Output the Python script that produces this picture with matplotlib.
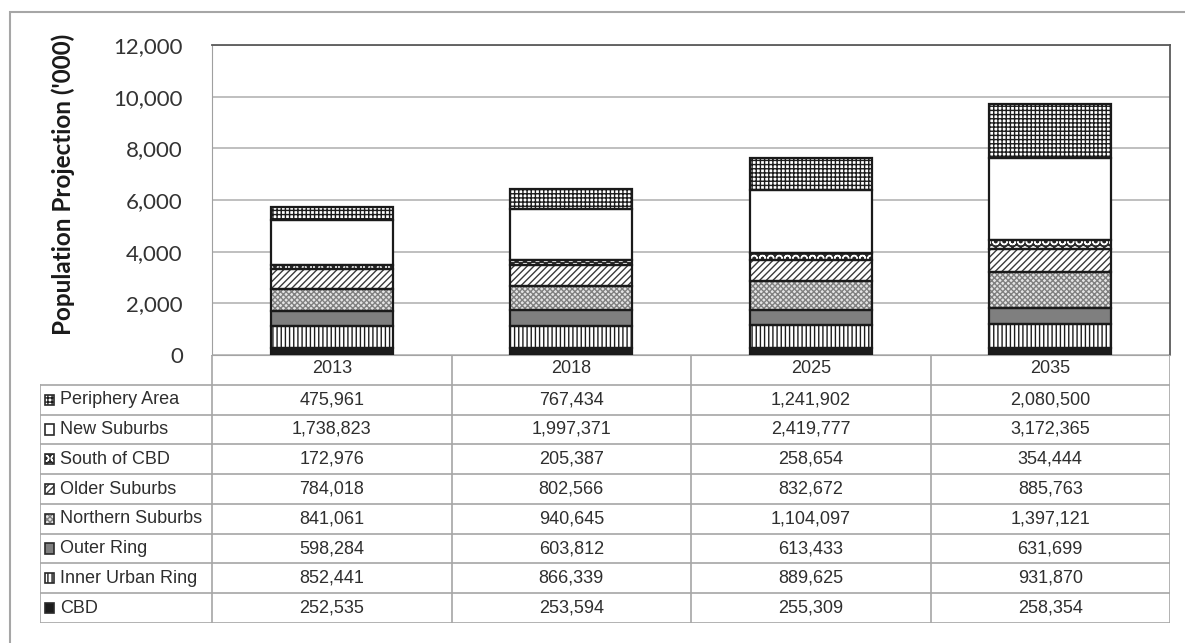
import matplotlib
matplotlib.use("Agg")
import matplotlib.pyplot as plt
from matplotlib.patches import Rectangle
from matplotlib.ticker import StrMethodFormatter

# data (persons), bottom-to-top stacking order
years = ["2013", "2018", "2025", "2035"]
areas = ["CBD", "Inner Urban Ring", "Outer Ring", "Northern Suburbs",
         "Older Suburbs", "South of CBD", "New Suburbs", "Periphery Area"]
cbd = [252535, 253594, 255309, 258354]
inner_urban_ring = [852441, 866339, 889625, 931870]
outer_ring = [598284, 603812, 613433, 631699]
northern_suburbs = [841061, 940645, 1104097, 1397121]
older_suburbs = [784018, 802566, 832672, 885763]
south_of_cbd = [172976, 205387, 258654, 354444]
new_suburbs = [1738823, 1997371, 2419777, 3172365]
periphery_area = [475961, 767434, 1241902, 2080500]

series = [cbd, inner_urban_ring, outer_ring, northern_suburbs,
          older_suburbs, south_of_cbd, new_suburbs, periphery_area]

# face colour, hatch colour, hatch
styles = [
    ("#1c1c1c", "#1c1c1c", None),
    ("white", "#1c1c1c", "||||"),
    ("#7f7f7f", "#7f7f7f", None),
    ("#e4e4e4", "#808080", "xxxxxx"),
    ("white", "#3a3a3a", "/////"),
    ("#2a2a2a", "white", "OO"),
    ("white", "white", None),
    ("white", "#1c1c1c", "++++"),
]

plt.rcParams["hatch.linewidth"] = 1.0
W, H = 1185, 643
fig = plt.figure(figsize=(W / 100, H / 100), dpi=100)

# outer frame (only left and top edges visible)
fig.add_artist(Rectangle((10 / W, -0.2), 1.5, 0.2 + (H - 12) / H,
                         transform=fig.transFigure, fill=False,
                         edgecolor="#a6a6a6", linewidth=1.5))

ax = fig.add_axes([212 / W, 1 - 355 / H, 958 / W, 310 / H])
x = [i + 0.5 for i in range(len(years))]
bottom = [0.0] * len(years)
for vals, (face, hcol, hatch) in zip(series, styles):
    v = [s / 1000 for s in vals]
    ax.bar(x, v, width=0.51, bottom=bottom, color=face, edgecolor=hcol,
           hatch=hatch, linewidth=0, zorder=2)
    ax.bar(x, v, width=0.51, bottom=bottom, fill=False,
           edgecolor="#1a1a1a", linewidth=1.6, zorder=3)
    bottom = [b + a for b, a in zip(bottom, v)]

ax.set_xlim(0, 4)
ax.set_ylim(0, 12000)
ax.set_yticks(range(0, 12001, 2000))
ax.yaxis.set_major_formatter(StrMethodFormatter("{x:,.0f}"))
ax.set_xticks([])
ax.grid(axis="y", color="#b4b4b4", linewidth=1.2, zorder=0)
ax.tick_params(axis="y", length=0, pad=21, labelsize=16, labelcolor="#333333")
for lab in ax.get_yticklabels():
    lab.set_fontfamily("Lato")
for side in ["left", "bottom"]:
    ax.spines[side].set_color("#a0a0a0")
for side in ["top", "right"]:
    ax.spines[side].set_color("#5a5a5a")
    ax.spines[side].set_linewidth(1.3)

fig.text(63 / W, 1 - 184 / H, "Population Projection ('000)", rotation=90,
         ha="center", va="center", fontsize=17.5, fontweight="bold",
         family="Lato", color="#1a1a1a")

# data table under the chart
xmin = -172 / 239.5
tab = fig.add_axes([40 / W, 1 - 623 / H, 1130 / W, 268 / H])
tab.set_xlim(xmin, 4)
tab.set_ylim(9, 0)
tab.axis("off")
lc, lw = "#a6a6a6", 1.2
tab.plot([0, 4], [0, 0], color=lc, lw=lw)
for r in range(1, 10):
    tab.plot([xmin, 4], [r, r], color=lc, lw=lw)
tab.plot([xmin, xmin], [1, 9], color=lc, lw=lw)
for c in range(5):
    tab.plot([c, c], [0, 9], color=lc, lw=lw)

tfont = dict(family="Liberation Sans", fontsize=13, color="#2e2e2e")
for j, yr in enumerate(years):
    tab.text(j + 0.5, 0.45, yr, ha="center", va="center", **tfont)

rows = list(zip(areas, series, styles))[::-1]
for i, (name, vals, (face, hcol, hatch)) in enumerate(rows):
    yc = i + 1.5
    tab.add_patch(Rectangle((xmin + 0.022, yc - 0.17), 0.036, 0.34,
                            facecolor=face, edgecolor=hcol, hatch=hatch,
                            linewidth=0))
    tab.add_patch(Rectangle((xmin + 0.022, yc - 0.17), 0.036, 0.34,
                            fill=False, edgecolor="#2a2a2a", linewidth=1.2))
    tab.text(xmin + 0.083, yc, name, ha="left", va="center", **tfont)
    for j, v in enumerate(vals):
        tab.text(j + 0.5, yc, f"{v:,}", ha="center", va="center", **tfont)

fig.savefig("out.png", dpi=100)
